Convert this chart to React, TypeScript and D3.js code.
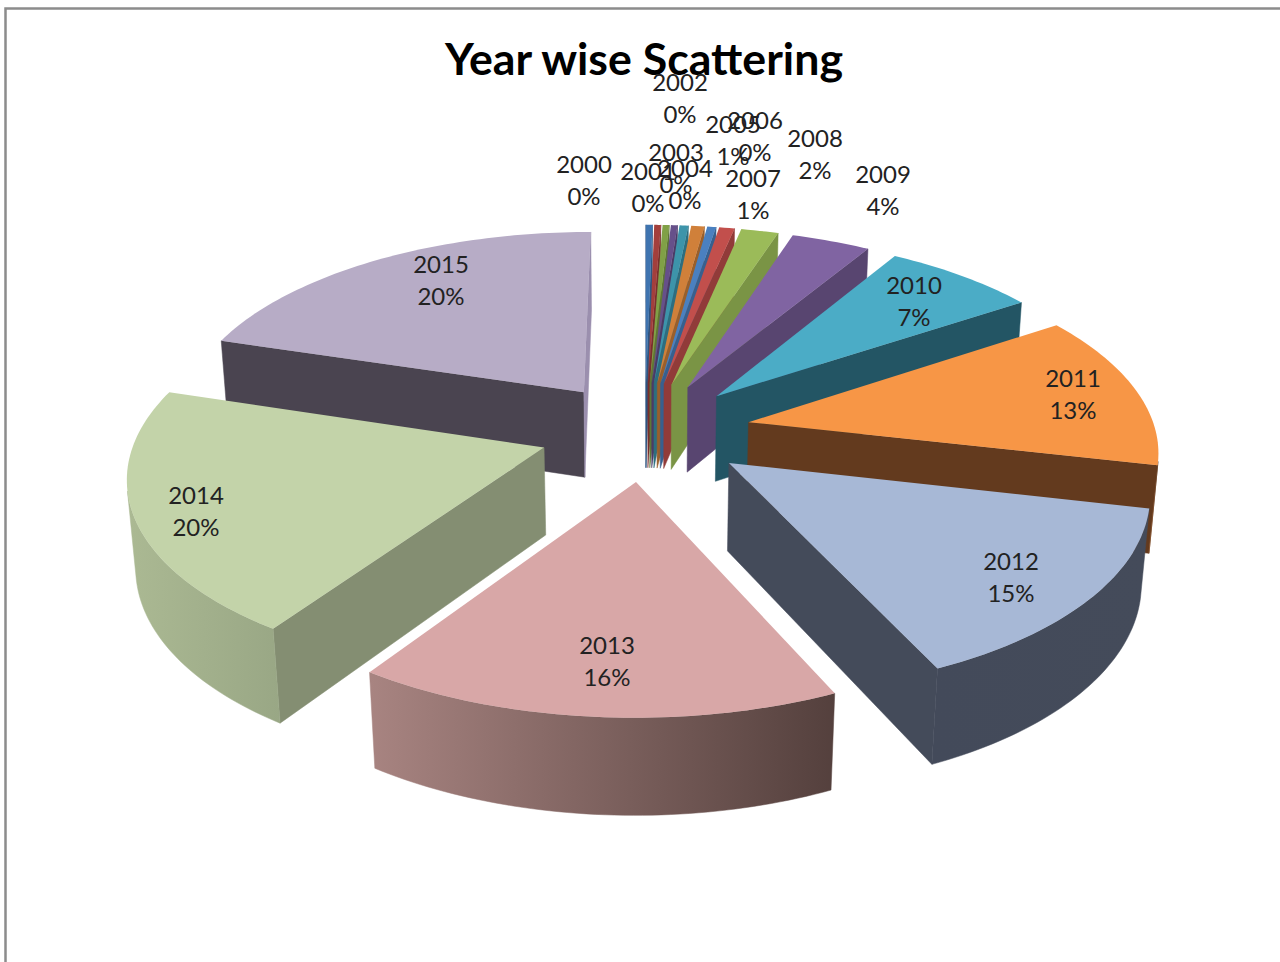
import React from "react";
import * as d3 from "d3";

const years = ["2000","2001","2002","2003","2004","2005","2006","2007","2008","2009","2010","2011","2012","2013","2014","2015"];
const shares = [0.3,0.3,0.3,0.3,0.4,0.6,0.4,0.7,1.7,3.6,7,12.8,14.5,16.2,20.2,20.1];
const percentLabels = ["0%","0%","0%","0%","0%","1%","0%","1%","2%","4%","7%","13%","15%","16%","20%","20%"];
const topColors = ["#3f74b0","#a33f3c","#80a046","#66508a","#3d94aa","#d0803a","#4a80c0","#c24f4c","#9bbb59","#8064a2","#4bacc6","#f79646","#a7b8d6","#d8a7a7","#c3d3a9","#b7acc6"];
const wallColors = ["#2f5580","#7a2f2d","#5f7735","#4b3b66","#2d6e7f","#9a5f2b","#37608f","#913b39","#7a9445","#584570","#235564","#633a1e","#444b5a","#7d5f5c","#848e72","#4a4450"];
const endWallColors = ["#2f5580","#7a2f2d","#5f7735","#4b3b66","#2d6e7f","#9a5f2b","#37608f","#913b39","#7a9445","#584570","#235564","#633a1e","#444b5a","#7d5f5c","#848e72","#9b8fae"];
const rimFrom = ["#2f5580","#7a2f2d","#5f7735","#4b3b66","#2d6e7f","#9a5f2b","#37608f","#913b39","#7a9445","#584570","#235564","#8a5128","#434a5a","#a88481","#abb993","#4a4450"];
const rimTo = ["#2f5580","#7a2f2d","#5f7735","#4b3b66","#2d6e7f","#9a5f2b","#37608f","#913b39","#7a9445","#584570","#235564","#633a1e","#444b5a","#54403d","#99a785","#4a4450"];

// placement of the data labels (centre x, centre y of the first line)
const labelX = [584,648,680,676,685,733,755,753,815,883,914,1073,1011,607,196,441];
const labelY = [163,170,81,151,167,123,119,177,137,173,284,377,560,644,494,263];

const W = 1280, H = 962;
const cx = 645, cy = 431, F = 407, D = 6.8, depth = 0.245, explode = 0.26;
const tilt = (27.9 * Math.PI) / 180;
const sinT = Math.sin(tilt), cosT = Math.cos(tilt);

type P = [number, number];
function project(X: number, Y: number, Z: number): P {
  const s = D / (D - (Y * cosT + Z * sinT));
  return [cx + F * s * X, cy + F * s * (Y * sinT - Z * cosT)];
}
const line = d3.line<P>().x(d => d[0]).y(d => d[1]);
const closed = (pts: P[]) => (line(pts) || "") + "Z";
const area = (pts: P[]) => d3.polygonArea(pts);

const arcs = d3.pie<number>().sort(null).value(d => d).startAngle(0).endAngle(2 * Math.PI)(shares);

type Wall = { d: string; color: string };
type Slice = { i: number; order: number; top: string; walls: Wall[]; rim: string | null };
const slices: Slice[] = arcs.map(a => {
  const i = a.index;
  const mid = (a.startAngle + a.endAngle) / 2;
  const ox = explode * Math.sin(mid), oy = -explode * Math.cos(mid);
  const pt = (th: number, r: number, z: number) => project(ox + r * Math.sin(th), oy - r * Math.cos(th), z);
  const n = Math.max(3, Math.ceil((a.endAngle - a.startAngle) / 0.02));
  const thetas = d3.range(n + 1).map(k => a.startAngle + ((a.endAngle - a.startAngle) * k) / n);
  const top: P[] = [pt(0, 0, 0), ...thetas.map(t => pt(t, 1, 0))];
  const walls: Wall[] = [];
  const q1: P[] = [pt(a.startAngle, 0, 0), pt(a.startAngle, 1, 0), pt(a.startAngle, 1, -depth), pt(a.startAngle, 0, -depth)];
  const q2: P[] = [pt(a.endAngle, 1, 0), pt(a.endAngle, 0, 0), pt(a.endAngle, 0, -depth), pt(a.endAngle, 1, -depth)];
  if (area(q1) > 0) walls.push({ d: closed(q1), color: wallColors[i] });
  if (area(q2) > 0) walls.push({ d: closed(q2), color: endWallColors[i] });
  const visible = thetas.slice(0, -1).map((t, k) => {
    const q: P[] = [pt(t, 1, 0), pt(thetas[k + 1], 1, 0), pt(thetas[k + 1], 1, -depth), pt(t, 1, -depth)];
    return area(q) < 0 ? null : [t, thetas[k + 1]];
  }).filter(Boolean) as number[][];
  let rim: string | null = null;
  if (visible.length) {
    const ts = [visible[0][0], ...visible.map(v => v[1])];
    rim = closed([...ts.map(t => pt(t, 1, 0)), ...ts.slice().reverse().map(t => pt(t, 1, -depth))]);
  }
  return { i, order: -Math.cos(mid), top: closed(top), walls, rim };
}).sort((a, b) => a.order - b.order);

export default function App() {
  return (
    <svg width={W} height={H} viewBox={`0 0 ${W} ${H}`} style={{ position: "absolute", left: 0, top: 0, display: "block", background: "#fff" }}>
      <defs>
        {years.map((y, i) => (
          <linearGradient key={y} id={`rim${i}`} x1="0" x2="1" y1="0" y2="0">
            <stop offset="0" stopColor={rimFrom[i]} />
            <stop offset="1" stopColor={rimTo[i]} />
          </linearGradient>
        ))}
      </defs>
      <path d="M5.5 962V8.5H1280" fill="none" stroke="#8c8c8c" strokeWidth={2.5} />
      {slices.map(s => (
        <g key={years[s.i]}>
          {s.walls.map((w, k) => <path key={k} d={w.d} fill={w.color} stroke={w.color} strokeWidth={0.5} />)}
          {s.rim && <path d={s.rim} fill={`url(#rim${s.i})`} stroke={`url(#rim${s.i})`} strokeWidth={0.5} />}
          <path d={s.top} fill={topColors[s.i]} />
        </g>
      ))}
      <text x={644} y={75} textAnchor="middle" fontFamily="Lato, sans-serif" fontWeight={700} fontSize={43} textLength={398} lengthAdjust="spacingAndGlyphs" fill="#000">Year wise Scattering</text>
      {years.map((y, i) => (
        <g key={y} fontFamily="Lato, sans-serif" fontSize={24} fill="#222" textAnchor="middle">
          <text x={labelX[i]} y={labelY[i]} dominantBaseline="central">{y}</text>
          <text x={labelX[i]} y={labelY[i] + 32} dominantBaseline="central">{percentLabels[i]}</text>
        </g>
      ))}
    </svg>
  );
}
